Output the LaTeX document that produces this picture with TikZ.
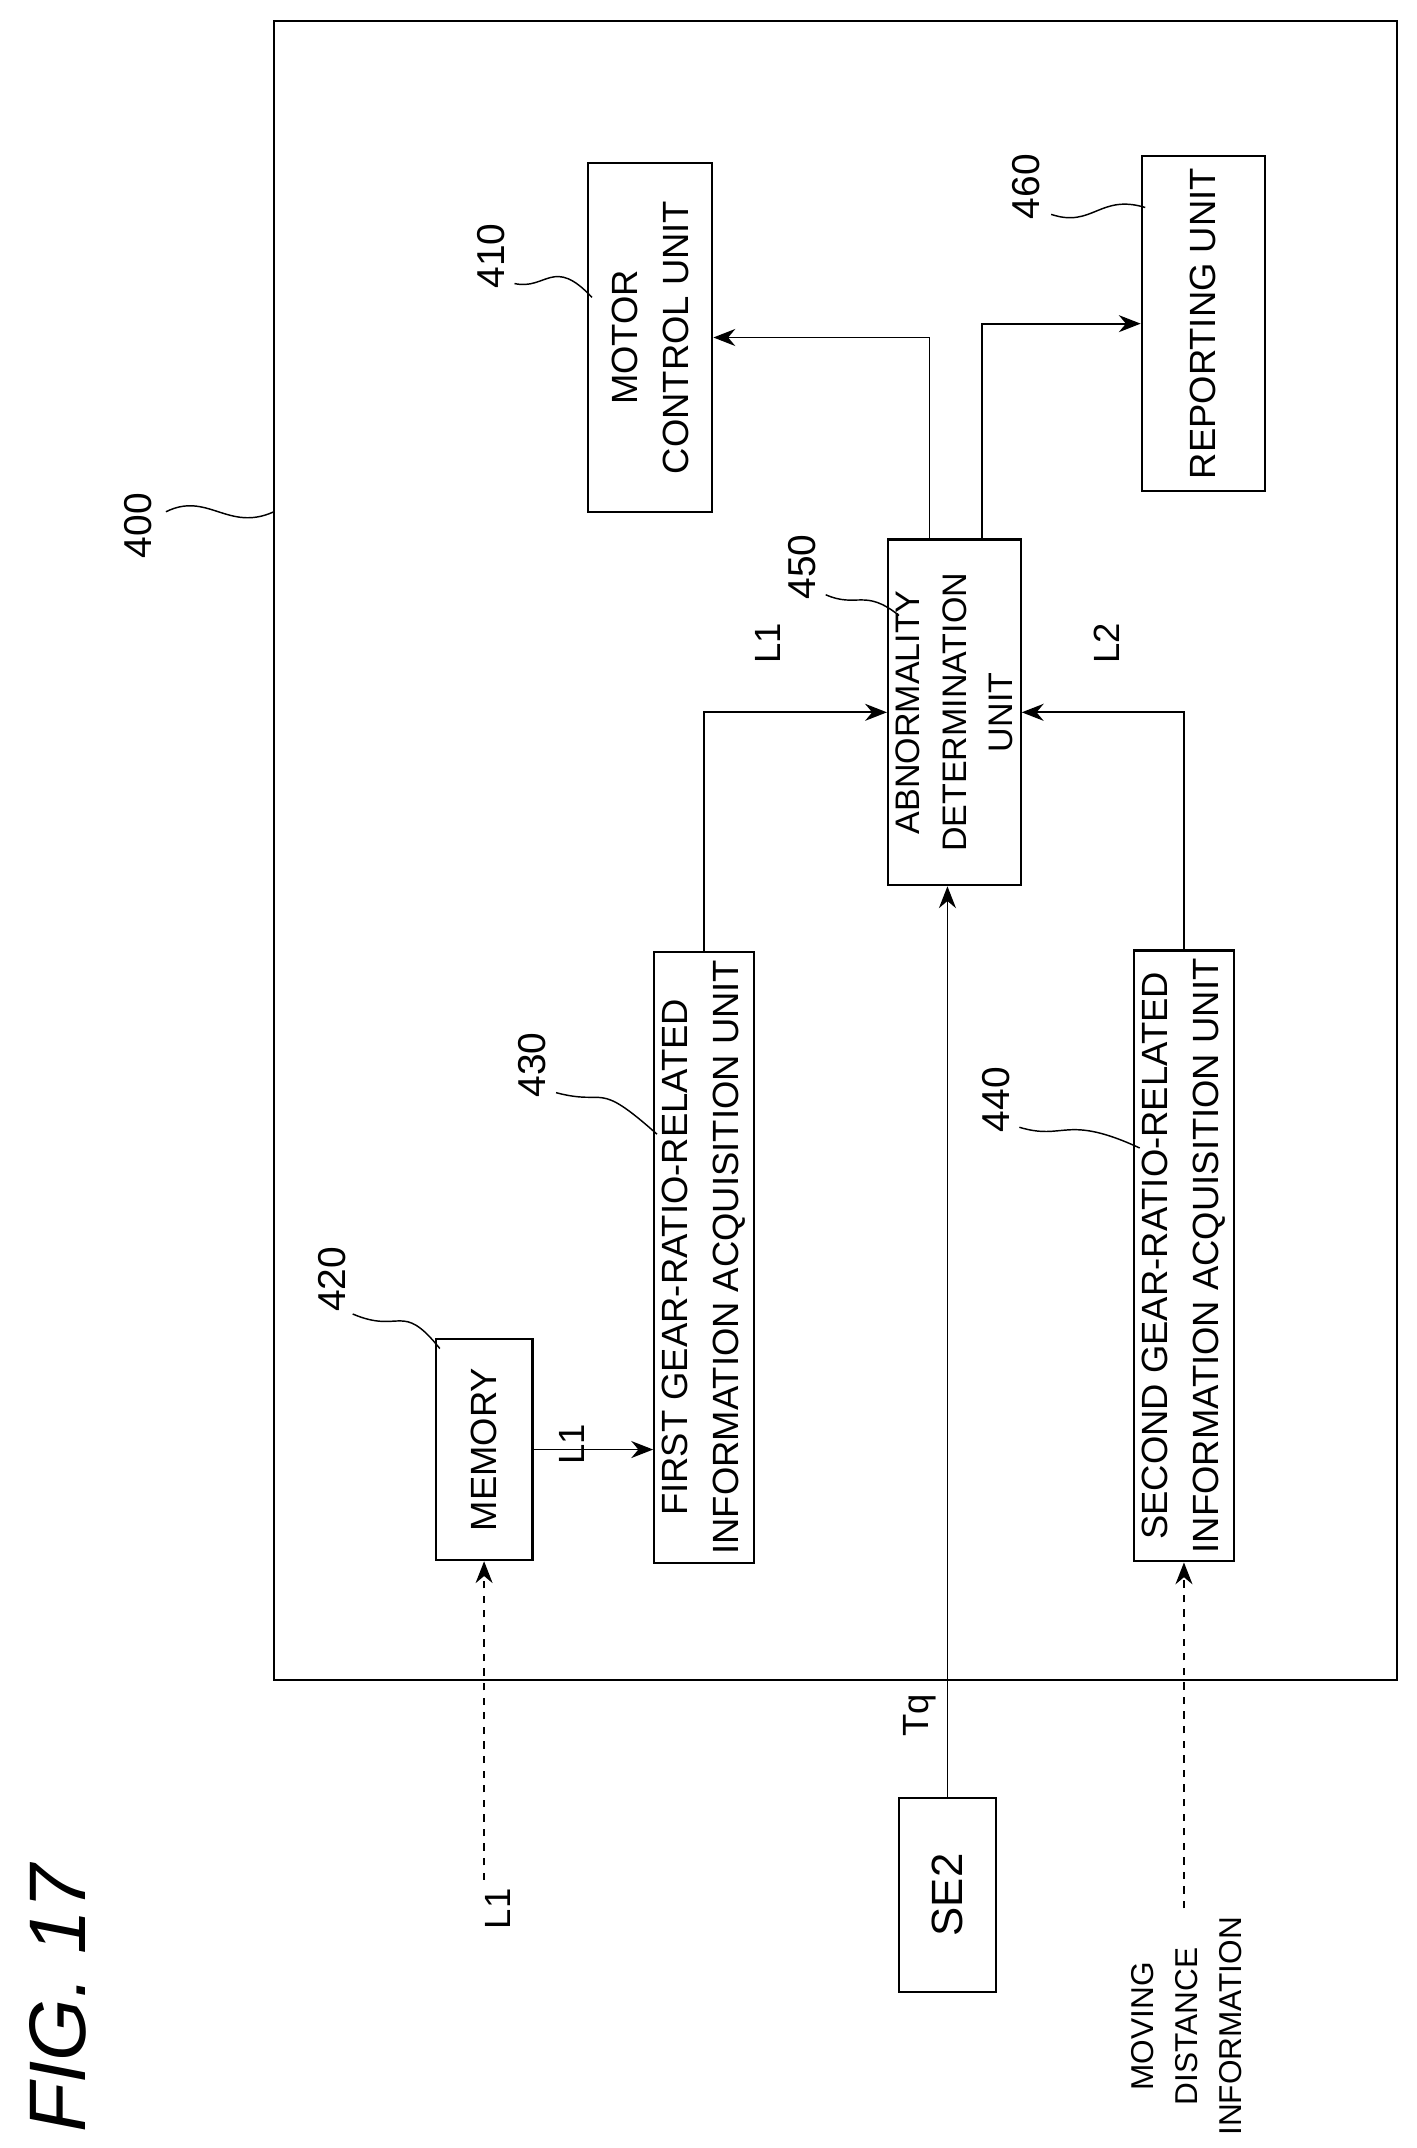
\documentclass[tikz,border=0pt]{standalone}
\usepackage{fontspec}
\setmainfont{Liberation Sans}
\usetikzlibrary{positioning, arrows.meta, calc}

\begin{document}
\begin{tikzpicture}[x=0.02cm, y=-0.02cm,
box/.style={rectangle, draw, line width=0.9pt, rotate=90, align=center, font=\fontsize{15}{21}\selectfont},
txt/.style={rotate=90, align=center, font=\fontsize{15}{21}\selectfont},
num/.style={rotate=90, font=\fontsize{16}{18}\selectfont},
arr/.style={-{Stealth[length=9pt, width=7pt]}, line width=0.7pt},
lead/.style={line width=0.6pt}]
    \useasboundingbox (0,0) rectangle (1024,1553);
    \node[rectangle, draw, line width=0.9pt, minimum width=16.24cm, minimum height=24cm](ecu) at (604,615) {};

    \node[box, minimum width=5.04cm, minimum height=1.8cm](motor) at (470,244) {MOTOR\\CONTROL UNIT};
    \node[box, minimum width=4.84cm, minimum height=1.78cm](rep) at (870,234) {REPORTING UNIT};
    \node[box, minimum width=5cm, minimum height=1.8cm, font=\fontsize{14}{19}\selectfont](abn) at (690,515) {ABNORMALITY\\DETERMINATION\\UNIT};
    \node[box, minimum width=3.2cm, minimum height=1.4cm](mem) at (350,1048) {MEMORY};
    \node[box, minimum width=8.76cm, minimum height=1.44cm](first) at (509,909) {FIRST GEAR-RATIO-RELATED\\INFORMATION ACQUISITION UNIT};
    \node[box, minimum width=8.54cm, minimum height=1.36cm](second) at (856,908) {SECOND GEAR-RATIO-RELATED\\INFORMATION ACQUISITION UNIT};
    \node[box, minimum width=2.8cm, minimum height=1.4cm, font=\fontsize{18}{21}\selectfont](se) at (685,1370) {SE2};

    % inputs
    \node[txt](lin) at (360,1380) {L1};
    \node[txt, font=\fontsize{13}{18}\selectfont](mdi) at (858,1465) {MOVING\\DISTANCE\\INFORMATION};
    \draw[arr, dashed] (mem.west |- lin.east) -- (mem.west);
    \draw[arr, dashed] (second.west |- mdi.east) -- (second.west);
    \draw[arr] (se.east) -- (se.east |- abn.west);
    \node[txt](tq) at (665,1240) {Tq};

    % internal connections
    \draw[arr] (mem.south) -- (mem.south -| first.north) node[txt, pos=0.5, above=2pt] {L1};
    \draw[arr] (first.east) |- (abn.north);
    \draw[arr] (second.east) |- (abn.south);
    \draw[arr] ([xshift=-0.36cm]abn.east) |- (motor.south);
    \draw[arr] ([xshift=0.4cm]abn.east) |- (rep.north);
    \node[txt](l1b) at (555,465) {L1};
    \node[txt](l2) at (800,465) {L2};

    % reference numerals
    \node[num](n400) at (100,380) {400};
    \node[num](n410) at (355,185) {410};
    \node[num](n420) at (240,925) {420};
    \node[num](n430) at (385,770) {430};
    \node[num](n440) at (720,795) {440};
    \node[num](n450) at (580,410) {450};
    \node[num](n460) at (742,135) {460};
    \draw[lead] (120,370) .. controls (150,355) and (165,385) .. (198,370);
    \draw[lead] (372,205) .. controls (395,210) and (400,185) .. (428,215);
    \draw[lead] (255,950) .. controls (290,965) and (290,940) .. (318,975);
    \draw[lead] (402,790) .. controls (440,800) and (430,780) .. (475,820);
    \draw[lead] (737,815) .. controls (770,825) and (770,805) .. (824,830);
    \draw[lead] (597,430) .. controls (620,440) and (625,425) .. (650,445);
    \draw[lead] (760,155) .. controls (790,165) and (795,140) .. (828,150);

    \node[rotate=90, font=\itshape\fontsize{33}{36}\selectfont](fig) at (42,1445) {FIG. 17};
\end{tikzpicture}
\end{document}
